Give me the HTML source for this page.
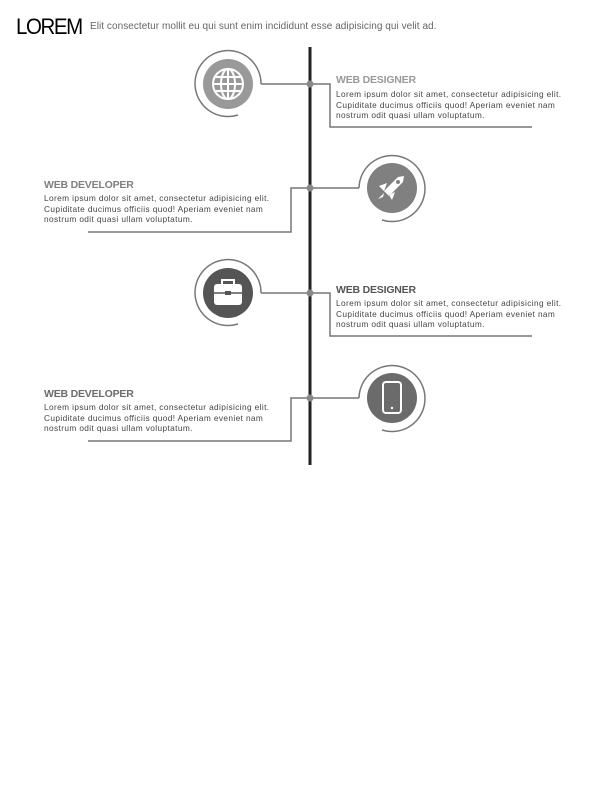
<!DOCTYPE html>
<html><head><meta charset="utf-8"><style>
body{margin:0;width:600px;height:800px;background:#fff;position:relative;overflow:hidden;font-family:"Liberation Sans",sans-serif}
.h{position:absolute}
.t{position:absolute;font-weight:bold;font-size:10.5px;letter-spacing:-0.2px}
.p{position:absolute;font-size:8.3px;line-height:10.6px;color:#444;letter-spacing:0.38px;white-space:nowrap}
</style></head><body>
<div class="h" style="left:16px;top:14px;font-size:22px;letter-spacing:-1.5px;color:#000;transform:scaleX(0.93);transform-origin:left">LOREM</div>
<div class="h" style="left:90px;top:21px;font-size:10px;color:#666;letter-spacing:0.05px">Elit consectetur mollit eu qui sunt enim incididunt esse adipisicing qui velit ad.</div>
<svg width="600" height="800" style="position:absolute;left:0;top:0">
<line x1="310" y1="47" x2="310" y2="465" stroke="#222" stroke-width="3"/>
<g fill="none" stroke="#777" stroke-width="1.5">
<path d="M261 84H310M310 84H330V127H532"/>
<path d="M261 84A33 33 0 1 0 238 115"/>
<path d="M359 188H310M310 188H291V232H88"/>
<path d="M359 188A33 33 0 1 1 382 220"/>
<path d="M261 293H310M310 293H330V336H532"/>
<path d="M261 293A33 33 0 1 0 238 324"/>
<path d="M359 398H310M310 398H291V441H88"/>
<path d="M359 398A33 33 0 1 1 382 430"/>
</g>
<g fill="#888"><circle cx="310" cy="84" r="3.5"/><circle cx="310" cy="188" r="3.5"/><circle cx="310" cy="293" r="3.5"/><circle cx="310" cy="398" r="3.5"/></g>
<g><circle cx="228" cy="84" r="25" fill="#999"/>
<g fill="none" stroke="#fff" stroke-width="2"><circle cx="228" cy="84" r="15"/><ellipse cx="228" cy="84" rx="7" ry="15"/><line x1="228" y1="69" x2="228" y2="99"/><line x1="213" y1="84" x2="243" y2="84"/><line x1="215" y1="77" x2="241" y2="77"/><line x1="215" y1="91" x2="241" y2="91"/></g></g>
<g><circle cx="392" cy="188" r="25" fill="#808080"/>
<path d="M404 176L398 177L384 191L389 196L403 182Z M387 183L379 186L384 191Z M395 192L392 200L389 195Z M384 193L378 199L383 197Z" fill="#fff"/><circle cx="398" cy="182" r="2" fill="#808080"/></g>
<g><circle cx="228" cy="293" r="25" fill="#555"/>
<rect x="214" y="284" width="28" height="21" rx="3" fill="#fff"/><rect x="222" y="280" width="12" height="5" fill="none" stroke="#fff" stroke-width="2"/><line x1="214" y1="293" x2="242" y2="293" stroke="#555" stroke-width="1.5"/><rect x="225" y="291" width="6" height="4" fill="#555"/></g>
<g><circle cx="392" cy="398" r="25" fill="#6b6b6b"/>
<rect x="383" y="382" width="18" height="31" rx="3" fill="none" stroke="#fff" stroke-width="2"/><circle cx="392" cy="408" r="1.2" fill="#fff"/></g>
</svg>
<div class="t" style="left:336px;top:74px;color:#999">WEB DESIGNER</div>
<div class="p" style="left:336px;top:89px">Lorem ipsum dolor sit amet, consectetur adipisicing elit.<br>Cupiditate ducimus officiis quod! Aperiam eveniet nam<br>nostrum odit quasi ullam voluptatum.</div>
<div class="t" style="left:44px;top:179px;color:#808080">WEB DEVELOPER</div>
<div class="p" style="left:44px;top:193px">Lorem ipsum dolor sit amet, consectetur adipisicing elit.<br>Cupiditate ducimus officiis quod! Aperiam eveniet nam<br>nostrum odit quasi ullam voluptatum.</div>
<div class="t" style="left:336px;top:284px;color:#555">WEB DESIGNER</div>
<div class="p" style="left:336px;top:298px">Lorem ipsum dolor sit amet, consectetur adipisicing elit.<br>Cupiditate ducimus officiis quod! Aperiam eveniet nam<br>nostrum odit quasi ullam voluptatum.</div>
<div class="t" style="left:44px;top:388px;color:#6b6b6b">WEB DEVELOPER</div>
<div class="p" style="left:44px;top:402px">Lorem ipsum dolor sit amet, consectetur adipisicing elit.<br>Cupiditate ducimus officiis quod! Aperiam eveniet nam<br>nostrum odit quasi ullam voluptatum.</div>
</body></html>
